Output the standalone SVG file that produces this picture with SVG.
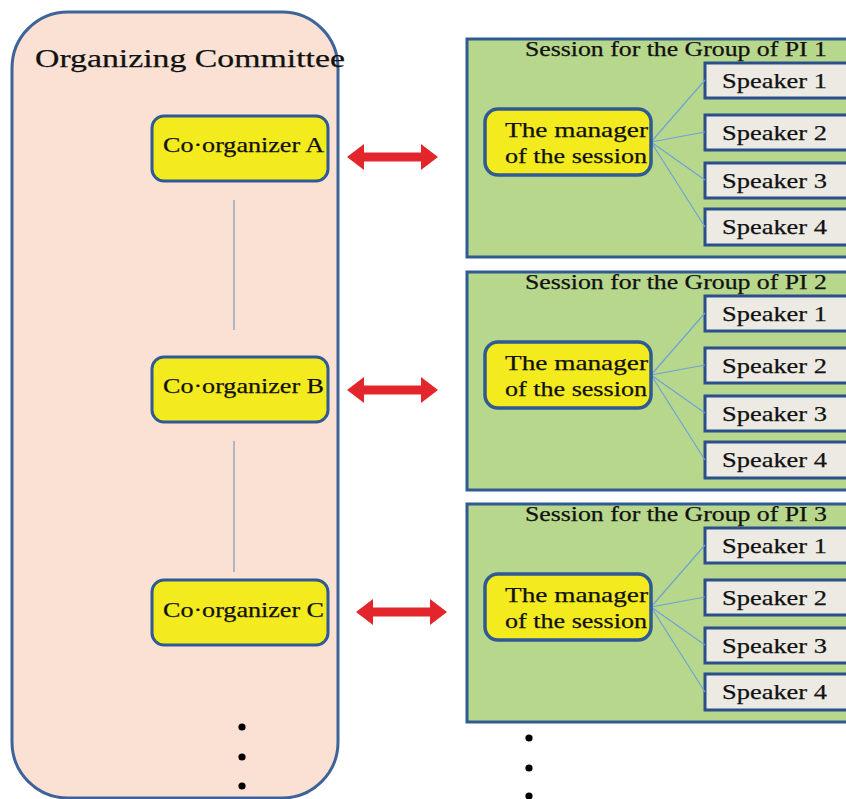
<svg xmlns="http://www.w3.org/2000/svg" xmlns:xlink="http://www.w3.org/1999/xlink" width="846" height="799" viewBox="0 0 846 799">
<style>
text{font-family:"Liberation Serif","DejaVu Serif",serif;fill:#111;stroke:#111;stroke-width:0.25;}
.committee{fill:#fbe1d4;stroke:#3d6399;stroke-width:3;}
.coorg{fill:#f3eb1e;stroke:#2f5a94;stroke-width:3;}
.session{fill:#b7d78c;stroke:#2f5a94;stroke-width:3;}
.mgr{fill:#f3eb1e;stroke:#2f5a94;stroke-width:3.5;}
.spk{fill:#eceae3;stroke:#2a4f8a;stroke-width:3;}
.link{stroke:#6fa3d6;stroke-width:1.2;fill:none;}
.vline{stroke:#7f97b8;stroke-width:1.2;}
.arrow{fill:#e3262b;}
.dot{fill:#000;}
.t20{font-size:20px;}
.t22{font-size:22px;}
</style>
<defs>
<polygon id="dbl" points="0,0 17,-13 17,-4.5 74,-4.5 74,-13 91,0 74,13 74,4.5 17,4.5 17,13"/>
<g id="sessionBody">
<rect class="session" x="467" y="39" width="385" height="218"/>
<rect class="spk" x="705" y="63" width="150" height="35"/>
<rect class="spk" x="705" y="115" width="150" height="35"/>
<rect class="spk" x="705" y="163" width="150" height="35"/>
<rect class="spk" x="705" y="209" width="150" height="36"/>
<path class="link" d="M651,142 L705,80 M651,142 L705,132 M651,142 L705,180 M651,142 L705,227"/>
<rect class="mgr" x="485" y="109" width="166" height="66" rx="13"/>
<text class="t22" x="505" y="137" textLength="143" lengthAdjust="spacingAndGlyphs">The manager</text>
<text class="t22" x="505" y="163" textLength="142" lengthAdjust="spacingAndGlyphs">of the session</text>
<text class="t22" x="722" y="88" textLength="105" lengthAdjust="spacingAndGlyphs">Speaker 1</text>
<text class="t22" x="722" y="140" textLength="105" lengthAdjust="spacingAndGlyphs">Speaker 2</text>
<text class="t22" x="722" y="188" textLength="105" lengthAdjust="spacingAndGlyphs">Speaker 3</text>
<text class="t22" x="722" y="234" textLength="105" lengthAdjust="spacingAndGlyphs">Speaker 4</text>
</g>
</defs>
<rect width="846" height="799" fill="#fff"/>

<g id="committee">
<rect class="committee" x="12" y="12" width="326" height="786" rx="56"/>
<text x="35" y="67" font-size="26" textLength="310" lengthAdjust="spacingAndGlyphs">Organizing Committee</text>
</g>

<g id="connectors">
<line class="vline" x1="234" y1="200" x2="234" y2="330"/>
<line class="vline" x1="234" y1="441" x2="234" y2="572"/>
<use href="#dbl" xlink:href="#dbl" class="arrow" x="347" y="157"/>
<use href="#dbl" xlink:href="#dbl" class="arrow" x="347" y="390"/>
<use href="#dbl" xlink:href="#dbl" class="arrow" x="356" y="612"/>
</g>

<g id="coorgA">
<rect class="coorg" x="152" y="116" width="176" height="65" rx="12"/>
<text class="t22" x="163" y="152" textLength="161" lengthAdjust="spacingAndGlyphs">Co·organizer A</text>
</g>
<g id="coorgB">
<rect class="coorg" x="152" y="357" width="176" height="65" rx="12"/>
<text class="t22" x="163" y="393" textLength="161" lengthAdjust="spacingAndGlyphs">Co·organizer B</text>
</g>
<g id="coorgC">
<rect class="coorg" x="152" y="580" width="176" height="65" rx="12"/>
<text class="t22" x="163" y="617" textLength="161" lengthAdjust="spacingAndGlyphs">Co·organizer C</text>
</g>

<g id="session1">
<use href="#sessionBody" xlink:href="#sessionBody"/>
<text class="t20" x="525" y="56" textLength="302" lengthAdjust="spacingAndGlyphs">Session for the Group of PI 1</text>
</g>
<g id="session2" transform="translate(0,233)">
<use href="#sessionBody" xlink:href="#sessionBody"/>
<text class="t20" x="525" y="56" textLength="302" lengthAdjust="spacingAndGlyphs">Session for the Group of PI 2</text>
</g>
<g id="session3" transform="translate(0,465)">
<use href="#sessionBody" xlink:href="#sessionBody"/>
<text class="t20" x="525" y="56" textLength="302" lengthAdjust="spacingAndGlyphs">Session for the Group of PI 3</text>
</g>

<g id="dots">
<circle class="dot" cx="242" cy="727" r="3.6"/>
<circle class="dot" cx="242" cy="757" r="3.6"/>
<circle class="dot" cx="242" cy="786" r="3.6"/>
<circle class="dot" cx="529" cy="738" r="3.6"/>
<circle class="dot" cx="529" cy="768" r="3.6"/>
<circle class="dot" cx="529" cy="796" r="3.6"/>
</g>
</svg>
